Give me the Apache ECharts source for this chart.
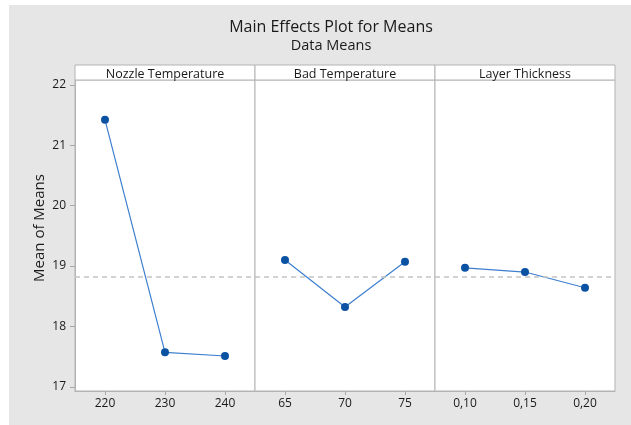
<!DOCTYPE html>
<html>
<head>
<meta charset="utf-8">
<script src="https://cdn.jsdelivr.net/npm/echarts@6/dist/echarts.min.js"></script>
<style>
  html, body { margin: 0; padding: 0; background: #ffffff; width: 631px; height: 425px; overflow: hidden; }
  #c { position: absolute; left: 9px; top: 5px; width: 622px; height: 420px; }
</style>
</head>
<body>
<div id="c"></div>
<script>
// ---- data ----
const panelTitles = ['Nozzle Temperature', 'Bad Temperature', 'Layer Thickness'];
const nozzleLevels = ['220', '230', '240'];
const badLevels = ['65', '70', '75'];
const layerLevels = ['0,10', '0,15', '0,20'];
const nozzleMeans = [21.42, 17.57, 17.51];
const badMeans = [19.10, 18.32, 19.07];
const layerMeans = [18.97, 18.90, 18.64];
const yTicks = [17, 18, 19, 20, 21, 22];
const grandMean = 18.83;

// ---- layout ----
const panelLeft0 = 66, panelWidth = 180, plotTop = 75, plotHeight = 311, headerTop = 60;
const yMin = 16.93, yMax = 22.08;
const font = 'Open Sans';
const borderCol = '#b3b3b3';

const levels = [nozzleLevels, badLevels, layerLevels];
const means = [nozzleMeans, badMeans, layerMeans];

const grids = [], xAxes = [], yAxes = [], series = [], graphics = [];
for (let i = 0; i < 3; i++) {
  const left = panelLeft0 + i * panelWidth;
  grids.push({
    left: left, top: plotTop, width: panelWidth, height: plotHeight,
    show: true, backgroundColor: '#ffffff', borderColor: borderCol, borderWidth: 1,
    outerBoundsMode: 'none'
  });
  xAxes.push({
    type: 'category', gridIndex: i, data: levels[i], boundaryGap: true,
    axisLine: { show: true, lineStyle: { color: borderCol } },
    axisTick: { show: true, alignWithLabel: true, length: 4, lineStyle: { color: '#a8a8a8' } },
    axisLabel: { fontFamily: font, fontSize: 12, color: '#1a1a1a', margin: 7 },
    splitLine: { show: false }
  });
  yAxes.push({
    type: 'value', gridIndex: i, min: yMin, max: yMax,
    axisLine: { show: i === 0, lineStyle: { color: borderCol } },
    axisTick: { show: i === 0, length: 5, customValues: yTicks, lineStyle: { color: '#a8a8a8' } },
    axisLabel: { show: i === 0, customValues: yTicks, fontFamily: font, fontSize: 12, color: '#1a1a1a', margin: 9 },
    splitLine: { show: false }
  });
  series.push({
    type: 'line', xAxisIndex: i, yAxisIndex: i, data: means[i],
    symbol: 'circle', symbolSize: 8,
    itemStyle: { color: '#0b52a3' },
    lineStyle: { color: '#3d7fcf', width: 1.2 },
    markLine: {
      silent: true, symbol: 'none', label: { show: false },
      lineStyle: { color: '#c4c4c4', type: [5, 4], width: 1.5 },
      data: [{ yAxis: grandMean }]
    },
    z: 3
  });
  graphics.push({
    type: 'rect', z: 10,
    shape: { x: left, y: headerTop, width: panelWidth, height: plotTop - headerTop },
    style: { fill: '#ffffff', stroke: borderCol, lineWidth: 1 }
  });
  graphics.push({
    type: 'text', z: 11,
    style: {
      text: panelTitles[i], x: left + panelWidth / 2, y: headerTop + 9,
      align: 'center', verticalAlign: 'middle',
      font: '12.5px "' + font + '"', fill: '#1a1a1a'
    }
  });
}
graphics.push({
  type: 'text', z: 11, rotation: Math.PI / 2, x: 31, y: 223,
  style: {
    text: 'Mean of Means', x: 0, y: 0, align: 'center', verticalAlign: 'middle',
    font: '15px "' + font + '"', fill: '#1a1a1a'
  }
});

const chart = echarts.init(document.getElementById('c'), null, { renderer: 'canvas' });
chart.setOption({
  animation: false,
  backgroundColor: '#e6e6e6',
  title: {
    text: 'Main Effects Plot for Means',
    subtext: 'Data Means',
    left: 317, top: 9, textAlign: 'center', itemGap: 3,
    textStyle: { fontFamily: font, fontSize: 16, fontWeight: 'normal', color: '#1a1a1a' },
    subtextStyle: { fontFamily: font, fontSize: 14.5, fontWeight: 'normal', color: '#1a1a1a' }
  },
  grid: grids,
  xAxis: xAxes,
  yAxis: yAxes,
  series: series,
  graphic: graphics
});
</script>
</body>
</html>
